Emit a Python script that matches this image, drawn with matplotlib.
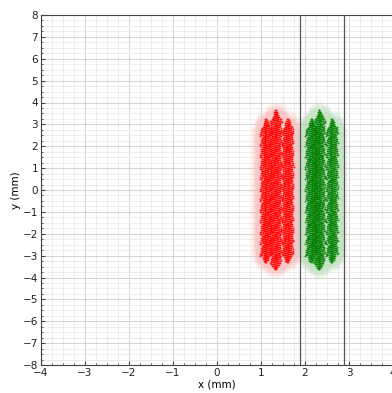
import numpy as np
import matplotlib.pyplot as plt
from matplotlib.ticker import MultipleLocator

# spot clusters (mm)
cluster_colors = ['#ff0000', '#008000']
glow_colors = ['#ffc8c8', '#c4e4c4']
cluster_x = [1.33, 2.34]
column_dx = [[-0.22, 0.0, 0.27], [-0.20, -0.02, 0.27]]
column_top = [3.3, 3.7, 3.3]
column_bottom = [-3.4, -3.72, -3.4]
stroke_dx = [-0.14, -0.11, -0.08, -0.055, -0.03, -0.01, 0.01, 0.03, 0.055, 0.08, 0.11, 0.14]
stroke_slope = [1.0, 0.8, 0.6, 0.4, 0.2, 0.05, -0.05, -0.2, -0.4, -0.6, -0.8, -1.0]
row_step = 0.09

# aperture lines
stop_x = [1.89, 2.89]

x_ticks = [-4, -3, -2, -1, 0, 1, 2, 3, 4]
y_ticks = list(range(-8, 9))


def cluster_points(xc, dxs):
    xs, ys = [], []
    for dx, top, bot in zip(dxs, column_top, column_bottom):
        rows = np.arange(bot, top + 1e-9, row_step)
        for sdx, sl in zip(stroke_dx, stroke_slope):
            # chevron-like strokes around each column
            off = (rows % 0.5) * sl * 0.1
            keep = (rows < top - abs(sdx) * 3) & (rows > bot + abs(sdx) * 3)
            xs.append(xc + dx + sdx + off[keep])
            ys.append(rows[keep] + sdx * 0.4)
    return np.concatenate(xs), np.concatenate(ys)


fig = plt.figure(figsize=(3.92, 3.93), dpi=100)
ax = fig.add_axes([41 / 392, 28 / 393, 352 / 392, 350 / 393])

for xc, dxs, col, gcol in zip(cluster_x, column_dx, cluster_colors, glow_colors):
    px, py = cluster_points(xc, dxs)
    # soft glow around the spot
    ax.scatter(px, py, s=220, color=gcol, alpha=0.03, lw=0, zorder=2)
    ax.scatter(px, py, s=1.8, color=col, alpha=0.85, lw=0, zorder=3)

for sx in stop_x:
    ax.axvline(sx, color='#555555', lw=0.9, zorder=4)

ax.set_xlim(-4, 4)
ax.set_ylim(-8, 8)
ax.set_xticks(x_ticks)
ax.set_yticks(y_ticks)
ax.xaxis.set_minor_locator(MultipleLocator(0.25))
ax.yaxis.set_minor_locator(MultipleLocator(0.25))
ax.grid(which='major', color='#cccccc', lw=0.6, zorder=0)
ax.grid(which='minor', color='#e8e8e8', lw=0.5, zorder=0)
ax.set_axisbelow(True)
ax.tick_params(which='both', direction='in', labelsize=7.5, color='#444444',
               labelcolor='#222222', pad=2)
ax.tick_params(which='major', length=3)
ax.tick_params(which='minor', length=1.5)
for s in ax.spines.values():
    s.set_color('#444444')
ax.set_xlabel('x (mm)', fontsize=7.5, labelpad=1)
ax.set_ylabel('y (mm)', fontsize=7.5, labelpad=1)

fig.savefig('out.png', dpi=100)
